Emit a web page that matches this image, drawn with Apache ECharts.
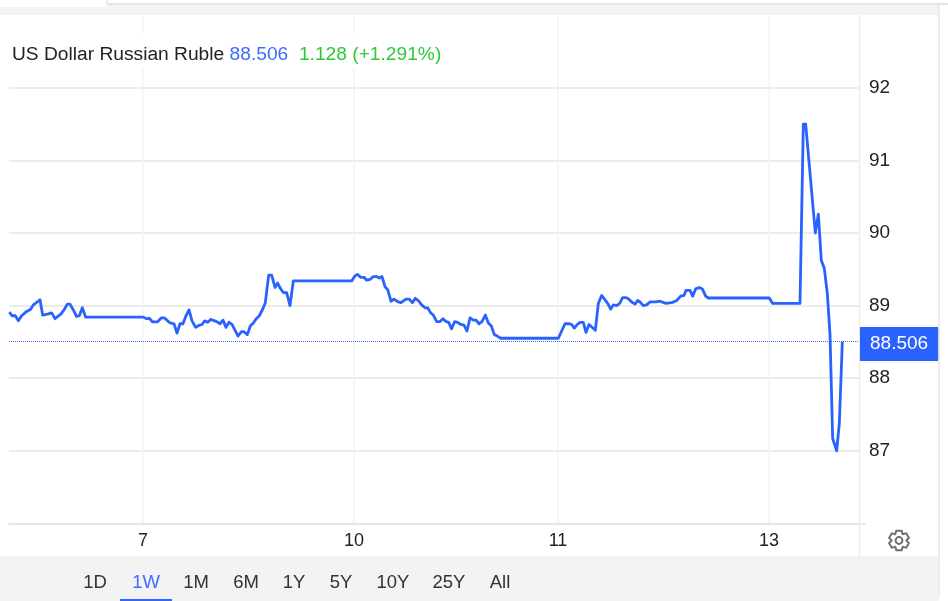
<!DOCTYPE html>
<html>
<head>
<meta charset="utf-8">
<style>html,body{margin:0;padding:0;background:#fff}#c{width:948px;height:601px}</style>
<script src="https://cdn.jsdelivr.net/npm/echarts@6/dist/echarts.min.js"></script>
</head>
<body>
<div id="c"></div>
<script>
// time steps along the compressed trading axis
const timeSteps = [28,36,46,55,65,80,92,100,112,120,128,145,155,165,183,192,202,210,220,230,238,247,257,430,440,448,458,472,484,494,505,512,522,531,540,549,558,567,576,587,598,606,614,623,632,650,660,669,678,687,696,714,724,732,742,751,760,769,778,787,796,806,815,825,833,842,850,860,870,880,
 960,1055,1065,1072,1082,1092,1100,1110,1120,1130,1138,1146,1155,1163,1173,1182,1195,1203,1218,1228,1237,1246,1255,1265,1275,1283,1292,1300,1310,1320,1329,1338,1346,1355,1364,1373,1382,1392,1401,1410,1420,1428,1437,1446,1456,1465,1474,1483,1492,1502,1675,1695,1708,1715,1723,1732,1740,1750,1758,1767,1786,1795,1805,1815,1823,1832,1840,1850,1859,1868,1877,1886,1895,1905,1913,
 1920,1930,1940,1950,1968,1980,1998,2015,2030,2042,2052,2058,2070,2078,2087,2098,2107,2117,2125,2308,2318,2400,2410,2417,2446,2455,2464,2473,2482,2490,2498,2510,2518,2527];
const rates = [88.91,88.86,88.86,88.79,88.86,88.92,88.95,89.01,89.05,89.08,88.87,88.885,88.90,88.82,88.885,88.94,89.02,89.02,88.94,88.85,88.86,88.97,88.84,88.84,88.82,88.825,88.775,88.775,88.83,88.83,88.78,88.76,88.75,88.62,88.75,88.75,88.86,88.94,88.79,88.70,88.73,88.74,88.79,88.77,88.81,88.78,88.75,88.80,88.70,88.77,88.74,88.58,88.64,88.64,88.60,88.72,88.76,88.82,88.86,88.94,89.04,89.42,89.42,89.25,89.31,89.23,89.18,89.18,89.00,89.34,
 89.34,89.34,89.41,89.43,89.39,89.39,89.35,89.36,89.40,89.40,89.38,89.40,89.26,89.22,89.06,89.09,89.05,89.04,89.09,89.09,89.04,89.10,89.07,89.01,88.97,88.97,88.90,88.87,88.78,88.78,88.82,88.78,88.77,88.68,88.78,88.77,88.74,88.73,88.65,88.83,88.80,88.80,88.75,88.78,88.87,88.76,88.72,88.60,88.58,88.55,88.55,88.75,88.75,88.74,88.69,88.74,88.77,88.77,88.63,88.74,88.66,89.03,89.14,89.08,89.03,88.95,89.01,89.00,89.03,89.11,89.11,89.09,89.05,89.02,89.07,
 89.05,89.00,89.01,89.05,89.05,89.06,89.03,89.04,89.07,89.13,89.14,89.21,89.21,89.13,89.23,89.25,89.23,89.13,89.105,89.105,89.03,89.03,91.5,91.5,90.0,90.26,89.62,89.51,89.165,88.61,87.17,87.0,87.38,88.506];
const dayTicks = [429,1062,1674,2307];
const dayLabels = ['7','10','11','13'];
const yTicks = [87,88,89,90,91,92];
const lastPrice = 88.506;
const changeText = '1.128 (+1.291%)';
const seriesName = 'US Dollar Russian Ruble';
const rangeLabels = ['1D','1W','1M','6M','1Y','5Y','10Y','25Y','All'];
const rangeCenters = [95,146,196,246,294,341,393,449,500];

const FONT = '"Liberation Sans", Arial, sans-serif';
const BLUE = '#2962ff';

// gear outline
const gearPts = [];
(function(){
  const cx = 899, cy = 540.5, teeth = 6;
  for (let i = 0; i < teeth; i++) {
    const a = i * 2 * Math.PI / teeth - Math.PI / 2;
    [[-0.52, 7.4], [-0.26, 10.2], [0.26, 10.2], [0.52, 7.4]].forEach(function(p){
      gearPts.push([cx + p[1] * Math.cos(a + p[0]), cy + p[1] * Math.sin(a + p[0])]);
    });
  }
})();

const graphics = [
  {type:'rect', z:-10, shape:{x:0,y:5,width:939,height:10}, style:{fill:'#f3f3f3'}},
  {type:'rect', z:-9, shape:{x:0,y:0,width:107,height:7}, style:{fill:'#ffffff'}},
  {type:'line', z:-8, shape:{x1:107,y1:4,x2:948,y2:4}, style:{stroke:'#dcdcdc',lineWidth:1.5}},
  {type:'line', z:-8, shape:{x1:107,y1:0,x2:107,y2:4}, style:{stroke:'#dcdcdc',lineWidth:1}},
  {type:'rect', z:-10, shape:{x:0,y:557,width:939,height:44}, style:{fill:'#f3f3f3'}},
  {type:'line', z:-8, shape:{x1:0,y1:557,x2:939,y2:557}, style:{stroke:'#e8e8e8',lineWidth:1}},
  {type:'line', z:-8, shape:{x1:939,y1:5,x2:939,y2:597}, style:{stroke:'#ececec',lineWidth:2}},
  {type:'line', z:-8, shape:{x1:859.5,y1:15,x2:859.5,y2:557}, style:{stroke:'#ececec',lineWidth:1.5}},
  {type:'line', z:-8, shape:{x1:859,y1:524,x2:866,y2:524}, style:{stroke:'#e6e6e6',lineWidth:1.5}},
  {type:'polygon', shape:{points:gearPts}, style:{fill:'none',stroke:'#6f6f6f',lineWidth:2}},
  {type:'circle', shape:{cx:899,cy:540.5,r:3.4}, style:{fill:'none',stroke:'#6f6f6f',lineWidth:2}},
  {type:'rect', shape:{x:120,y:599,width:52,height:2}, style:{fill:'#3366ff'}}
];
rangeLabels.forEach(function(t, i){
  graphics.push({type:'text', x:rangeCenters[i], y:583,
    style:{text:t, fill: t==='1W' ? '#3f6bff' : '#333', font:'18.5px '+FONT, textAlign:'center', textVerticalAlign:'middle'}});
});

const chart = echarts.init(document.getElementById('c'), null, {renderer:'canvas'});
chart.setOption({
  animation:false,
  backgroundColor:'#ffffff',
  title:{
    left:9, top:33, padding:[12,3,4,3], backgroundColor:'#ffffff', z:5,
    text:'{n|'+seriesName+'} {v|'+lastPrice.toFixed(3)+'}  {c|'+changeText+'}',
    textStyle:{fontFamily:FONT, fontSize:19.2, fontWeight:'normal', rich:{
      n:{fontFamily:FONT,fontSize:19.2,color:'#222'},
      v:{fontFamily:FONT,fontSize:19.2,color:'#3f6bff'},
      c:{fontFamily:FONT,fontSize:19.2,color:'#2ec83c'}
    }}
  },
  grid:{left:9, right:89, top:15.2, bottom:77.6},
  xAxis:{
    type:'value', min:27, max:2577,
    axisLine:{show:true,onZero:false,lineStyle:{color:'#e6e6e6',width:2}},
    axisTick:{show:false,customValues:dayTicks},
    axisLabel:{customValues:dayTicks,margin:9,color:'#222',fontFamily:FONT,fontSize:18,
      showMinLabel:true,showMaxLabel:true,
      formatter:function(v){const i=dayTicks.indexOf(v);return i<0?'':dayLabels[i];}},
    splitLine:{show:true,lineStyle:{color:'#f1f4f7',width:1.5}}
  },
  yAxis:{
    type:'value', position:'right', min:86, max:93, interval:1,
    axisLine:{show:false}, axisTick:{show:false},
    axisLabel:{margin:10,color:'#222',fontFamily:FONT,fontSize:19,
      formatter:function(v){return yTicks.indexOf(v)<0?'':String(v);}},
    splitLine:{show:true,showMaxLine:false,showMinLine:false,lineStyle:{color:'#e6e6e6',width:1.5}}
  },
  series:[{
    type:'line', name:seriesName, showSymbol:false, symbol:'none', clip:false,
    data:timeSteps.map(function(t,i){return [t,rates[i]];}),
    lineStyle:{color:BLUE,width:2.8,join:'round'},
    markLine:{
      silent:true, symbol:'none', animation:false, precision:3,
      lineStyle:{color:'#3f6bff',type:'dotted',width:1},
      label:{show:true,position:'end',distance:1,offset:[0,2.5],formatter:function(){return lastPrice.toFixed(3);},
        color:'#fff',backgroundColor:'#2962ff',fontFamily:FONT,fontSize:19,lineHeight:20,padding:[7,10,7,10]},
      data:[{yAxis:lastPrice}]
    }
  }],
  graphic:{elements:graphics}
});
</script>
</body>
</html>
